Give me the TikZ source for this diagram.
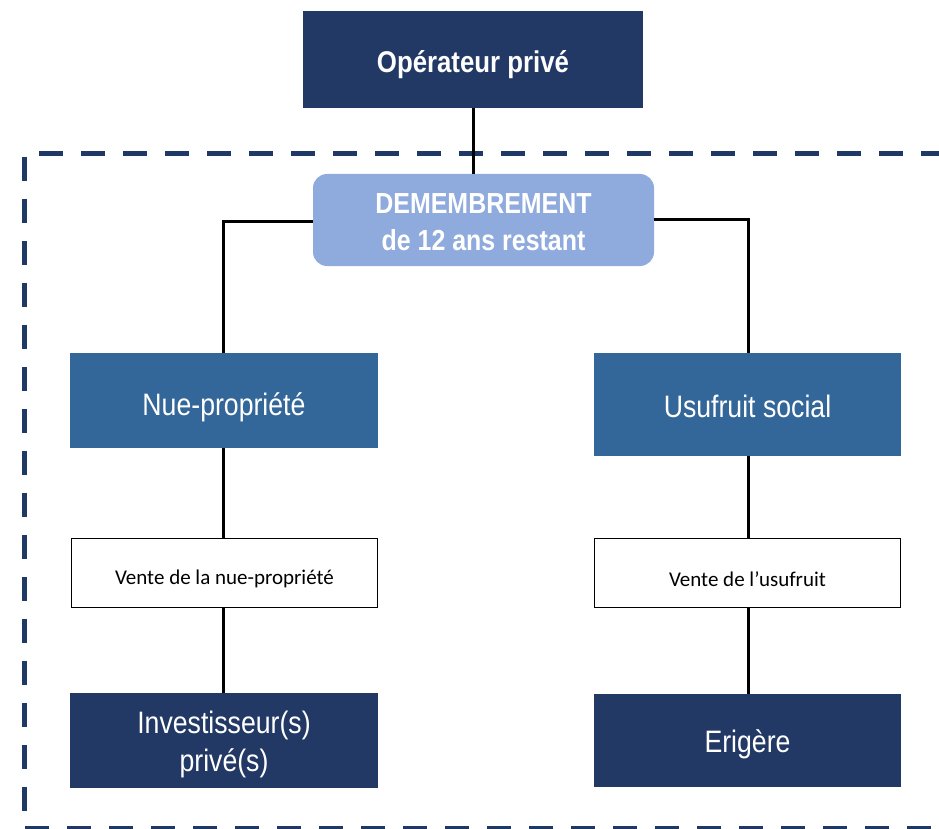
\documentclass[tikz,border=0pt]{standalone}
\usepackage{fontspec}
\setmainfont{Liberation Sans}
\newfontfamily\robf{Liberation Sans}[FakeStretch=0.86]
\newfontfamily\calf{Carlito}
\definecolor{navy}{HTML}{223966}
\definecolor{midblue}{HTML}{336699}
\definecolor{lightblue}{HTML}{8FAADC}
\definecolor{dashblue}{HTML}{1F3864}
\tikzset{
  box/.style={rectangle, inner sep=0pt},
  darkbox/.style={box, fill=navy},
  midbox/.style={box, fill=midblue},
  salebox/.style={rectangle, draw=black, line width=1.6pt, fill=white, inner sep=0pt},
  wtext/.style={text=white, align=center, inner sep=0pt},
  bigtext/.style={wtext, font=\robf\fontsize{31}{38}\selectfont},
  boldtext/.style={wtext, font=\robf\bfseries\fontsize{30}{37}\selectfont},
  smalltext/.style={align=center, inner sep=0pt, font=\calf\fontsize{21}{24}\selectfont},
  conn/.style={draw=black, line width=3pt},
}
\begin{document}
\begin{tikzpicture}[x=1pt,y=-1pt]
\useasboundingbox (0,0) rectangle (939,829);
\clip (0,0) rectangle (939,829);
% dashed frame
\draw[dashblue, line width=5pt, dash pattern=on 24pt off 18pt] (945,154) -- (24,154) -- (24,828) -- (945,828);
% boxes
\node[darkbox, minimum width=340pt, minimum height=97pt] (op) at (473,59.5) {};
\node[box, fill=lightblue, rounded corners=14pt, minimum width=341pt, minimum height=92pt] (dem) at (483.5,220) {};
\node[midbox, minimum width=308pt, minimum height=95pt] (nue) at (224,400.5) {};
\node[midbox, minimum width=307pt, minimum height=103pt] (usu) at (747.5,404.5) {};
\node[salebox, minimum width=306pt, minimum height=69pt] (vnue) at (224.5,573) {};
\node[salebox, minimum width=306pt, minimum height=69pt] (vusu) at (747.5,573) {};
\node[darkbox, minimum width=308pt, minimum height=95pt] (inv) at (224,740.5) {};
\node[darkbox, minimum width=307pt, minimum height=93pt] (eri) at (747.5,740.5) {};
% texts
\node[boldtext, yshift=-5pt] (opT) at (op.center) {Opérateur privé};
\node[boldtext, font=\robf\bfseries\fontsize{29}{37}\selectfont, yshift=-2pt] (demT) at (dem.center) {DEMEMBREMENT\\de 12 ans restant};
\node[bigtext, yshift=-7pt] (nueT) at (nue.center) {Nue-propriété};
\node[bigtext, yshift=-2pt] (usuT) at (usu.center) {Usufruit social};
\node[smalltext, yshift=-6pt] (vnueT) at (vnue.center) {Vente de la nue-propriété};
\node[smalltext, yshift=-6pt] (vusuT) at (vusu.center) {Vente de l’usufruit};
\node[bigtext, yshift=-4pt] (invT) at (inv.center) {Investisseur(s)\\privé(s)};
\node[bigtext, yshift=-4pt] (eriT) at (eri.center) {Erigère};
% connectors
\draw[conn] (op.south) -- (dem.north -| op.south);
\coordinate (lc) at (223,221);
\coordinate (rc) at (748,219);
\draw[conn, line join=miter] (dem.west |- lc) -- (lc) -- (nue.north -| lc);
\draw[conn, line join=miter] (dem.east |- rc) -- (rc) -- (usu.north -| rc);
\draw[conn] (nue.south -| lc) -- (vnue.north -| lc);
\draw[conn] (vnue.south -| lc) -- (inv.north -| lc);
\draw[conn] (usu.south -| rc) -- (vusu.north -| rc);
\draw[conn] (vusu.south -| rc) -- (eri.north -| rc);
\end{tikzpicture}
\end{document}
